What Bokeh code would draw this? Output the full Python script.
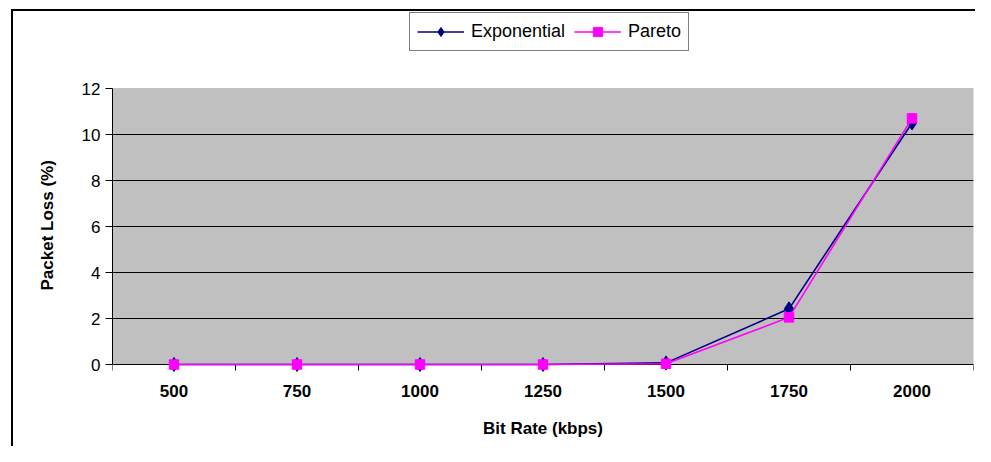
import numpy as np
from bokeh.plotting import figure
from bokeh.models import (Range1d, FixedTicker, Legend, LegendItem, BoxAnnotation,
                          LinearAxis, Title)
from bokeh.embed import file_html
from bokeh.resources import INLINE

categories = ["500", "750", "1000", "1250", "1500", "1750", "2000"]
exponential = [0, 0, 0, 0, 0.07, 2.42, 10.5]
pareto = [0, 0, 0, 0, 0.03, 2.05, 10.7]
y_ticks = [0, 2, 4, 6, 8, 10, 12]

FONT = "Liberation Sans"
NAVY = "#000080"
MAGENTA = "#FF00FF"

n = len(categories)
xs = [i + 0.5 for i in range(n)]
edges = list(range(n + 1))
y_max = y_ticks[-1]
PX = 23.0  # pixels per y unit

# chart-area border (left and top edges) drawn as CSS background lines
border_css = ("linear-gradient(#000,#000) 11px 9px / 2px 100% no-repeat, "
              "linear-gradient(#000,#000) 11px 9px / calc(100% - 11px) 2px no-repeat, #fff")

p = figure(width=975, height=446, output_backend="svg", toolbar_location=None,
           x_range=Range1d(0, n), y_range=Range1d(-8 / PX, y_max + 88 / PX),
           min_border_left=112, min_border_right=2, min_border_top=0,
           min_border_bottom=74, styles={"background": border_css})

p.background_fill_color = None
p.border_fill_color = None
p.outline_line_color = None

# grey plot area
area = BoxAnnotation(left=0, right=n, bottom=0, top=y_max,
                     fill_color="#C0C0C0", fill_alpha=1,
                     line_color="#808080", line_width=1, level="image")
p.add_layout(area)

# grid
p.xgrid.visible = False
p.ygrid.ticker = FixedTicker(ticks=[t for t in y_ticks if 0 < t < y_max])
p.ygrid.grid_line_color = "black"
p.ygrid.grid_line_width = 1

# y axis
p.yaxis.ticker = FixedTicker(ticks=y_ticks)
p.yaxis.bounds = (0, y_max)
p.yaxis.axis_line_color = "black"
p.yaxis.major_tick_out = 7
p.yaxis.major_tick_in = 0
p.yaxis.minor_tick_line_color = None
p.yaxis.major_label_text_font = FONT
p.yaxis.major_label_text_font_size = "17px"
p.yaxis.major_label_text_color = "black"
p.yaxis.major_label_standoff = 5
# blank spacer between tick labels and the title
p.yaxis.axis_label = " "
p.yaxis.axis_label_text_font_size = "1px"
p.yaxis.axis_label_standoff = 13

ytitle = Title(text="Packet Loss (%)", align="left", offset=82,
               text_font=FONT, text_font_size="17px", text_font_style="bold",
               text_color="black")
p.add_layout(ytitle, "left")

# x axis line at 0 with tick marks between categories
p.xaxis.fixed_location = 0
p.xaxis.ticker = FixedTicker(ticks=[], minor_ticks=edges)
p.xaxis.axis_line_color = "black"
p.xaxis.major_tick_line_color = None
p.xaxis.major_tick_out = 0
p.xaxis.major_tick_in = 0
p.xaxis.minor_tick_line_color = "black"
p.xaxis.minor_tick_out = 6
p.xaxis.minor_tick_in = 0
p.xaxis.major_label_standoff = 0

# category labels and axis title
xlab = LinearAxis(ticker=FixedTicker(ticks=xs),
                  major_label_overrides={x: c for x, c in zip(xs, categories)},
                  axis_line_color=None, major_tick_line_color=None,
                  minor_tick_line_color=None, major_tick_out=0, major_tick_in=0,
                  major_label_text_font=FONT, major_label_text_font_size="17px",
                  major_label_text_font_style="bold", major_label_text_color="black",
                  major_label_standoff=12,
                  axis_label="Bit Rate (kbps)", axis_label_text_font=FONT,
                  axis_label_text_font_size="17px", axis_label_text_font_style="bold",
                  axis_label_text_color="black", axis_label_standoff=19)
p.add_layout(xlab, "below")

l1 = p.line(xs, exponential, line_color=NAVY, line_width=1.6, level="overlay")
m1 = p.scatter(xs, exponential, marker="diamond", size=14,
               fill_color=NAVY, line_color=NAVY, level="overlay")
l2 = p.line(xs, pareto, line_color=MAGENTA, line_width=1.6, level="overlay")
m2 = p.scatter(xs, pareto, marker="square", size=9.5,
               fill_color=MAGENTA, line_color=MAGENTA, level="overlay")

legend = Legend(items=[LegendItem(label="Exponential", renderers=[l1, m1]),
                       LegendItem(label="Pareto", renderers=[l2, m2])],
                location=(297, 321), orientation="horizontal")
legend.border_line_color = "black"
legend.border_line_width = 1
legend.background_fill_color = "white"
legend.background_fill_alpha = 1
legend.label_text_font = FONT
legend.label_text_font_size = "18px"
legend.label_text_color = "black"
legend.padding = 7
legend.spacing = 9
legend.margin = 0
legend.label_standoff = 7
legend.glyph_width = 47
legend.glyph_height = 23
legend.label_height = 23
p.add_layout(legend, "center")

open("out.html", "w").write(file_html(p, INLINE))
